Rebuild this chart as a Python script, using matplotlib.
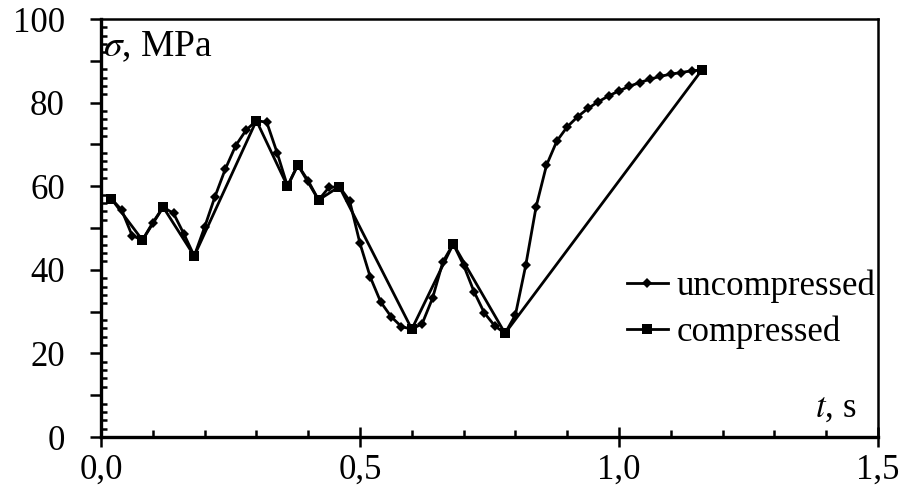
import matplotlib
matplotlib.use("Agg")
import matplotlib.pyplot as plt
from matplotlib.ticker import MultipleLocator, FuncFormatter

# Stress history sampled at 0.02 s
t_unc = [0.02, 0.04, 0.06, 0.08, 0.10, 0.12, 0.14, 0.16, 0.18, 0.20,
         0.22, 0.24, 0.26, 0.28, 0.30, 0.32, 0.34, 0.36, 0.38, 0.40,
         0.42, 0.44, 0.46, 0.48, 0.50, 0.52, 0.54, 0.56, 0.58, 0.60,
         0.62, 0.64, 0.66, 0.68, 0.70, 0.72, 0.74, 0.76, 0.78, 0.80,
         0.82, 0.84, 0.86, 0.88, 0.90, 0.92, 0.94, 0.96, 0.98, 1.00,
         1.02, 1.04, 1.06, 1.08, 1.10, 1.12, 1.14, 1.16]
s_unc = [57.0, 54.3, 48.2, 47.1, 51.3, 55.0, 53.5, 48.6, 43.3, 50.2,
         57.5, 64.1, 69.7, 73.4, 75.7, 75.3, 68.0, 60.0, 65.1, 61.3,
         56.7, 59.7, 59.9, 56.5, 46.3, 38.2, 32.3, 28.8, 26.4, 25.8,
         27.1, 33.2, 41.9, 46.2, 41.1, 34.8, 29.7, 26.6, 24.8, 29.2,
         41.1, 55.1, 65.0, 70.8, 74.2, 76.6, 78.6, 80.2, 81.6, 82.8,
         83.9, 84.8, 85.6, 86.3, 86.8, 87.2, 87.6, 87.8]

# Compressed history: turning points only
t_cmp = [0.02, 0.08, 0.12, 0.18, 0.30, 0.36, 0.38, 0.42, 0.46, 0.60,
         0.68, 0.78, 1.16]
s_cmp = [57.0, 47.1, 55.0, 43.3, 75.7, 60.0, 65.1, 56.7, 59.9, 25.8,
         46.2, 24.8, 87.8]

x_ticks = [0.0, 0.5, 1.0, 1.5]
y_labels = [0, 20, 40, 60, 80, 100]

FS = 25

plt.rcParams["font.family"] = ["Liberation Serif", "DejaVu Serif"]
plt.rcParams["mathtext.fontset"] = "stix"

fig = plt.figure(figsize=(9.05, 5.01), dpi=100)
ax = fig.add_axes([101 / 905, 1 - 437 / 501, 777 / 905, 418 / 501])

ax.plot(t_unc, s_unc, color="black", lw=2.0, marker="D", ms=5.5,
        mew=0, label="uncompressed", zorder=3)
ax.plot(t_cmp, s_cmp, color="black", lw=2.0, marker="s", ms=7,
        mew=0, label="compressed", zorder=4)

ax.set_xlim(0, 1.5)
ax.set_ylim(0, 100)
ax.set_xticks(x_ticks)
ax.xaxis.set_minor_locator(MultipleLocator(0.1))
ax.yaxis.set_major_locator(MultipleLocator(10))
ax.yaxis.set_minor_locator(MultipleLocator(2))

ax.xaxis.set_major_formatter(FuncFormatter(lambda v, p: f"{v:.1f}".replace(".", ",")))
ax.yaxis.set_major_formatter(FuncFormatter(
    lambda v, p: f"{int(round(v))}" if int(round(v)) in y_labels else ""))

ax.tick_params(axis="x", which="major", direction="inout", length=14,
               width=1.8, labelsize=FS, pad=5)
ax.tick_params(axis="x", which="minor", direction="in", length=5, width=1.8)
ax.tick_params(axis="y", which="major", direction="out", length=8,
               width=1.8, labelsize=FS, pad=18)
ax.tick_params(axis="y", which="minor", direction="in", length=4, width=1.8)

for sp in ax.spines.values():
    sp.set_linewidth(1.8)
ax.spines["bottom"].set_linewidth(2.4)
ax.spines["left"].set_linewidth(2.4)

ax.text(0.003, 0.975, r"$\sigma$, MPa", transform=ax.transAxes,
        fontsize=27, va="top", ha="left")
ax.text(0.972, 0.03, r"$t$, s", transform=ax.transAxes,
        fontsize=FS, va="bottom", ha="right")

ax.legend(loc="center right", bbox_to_anchor=(1.015, 0.305), frameon=False,
          fontsize=FS, handlelength=1.2, handletextpad=0.25,
          labelspacing=0.35, borderaxespad=0.0)

fig.savefig("out.png", dpi=100)
